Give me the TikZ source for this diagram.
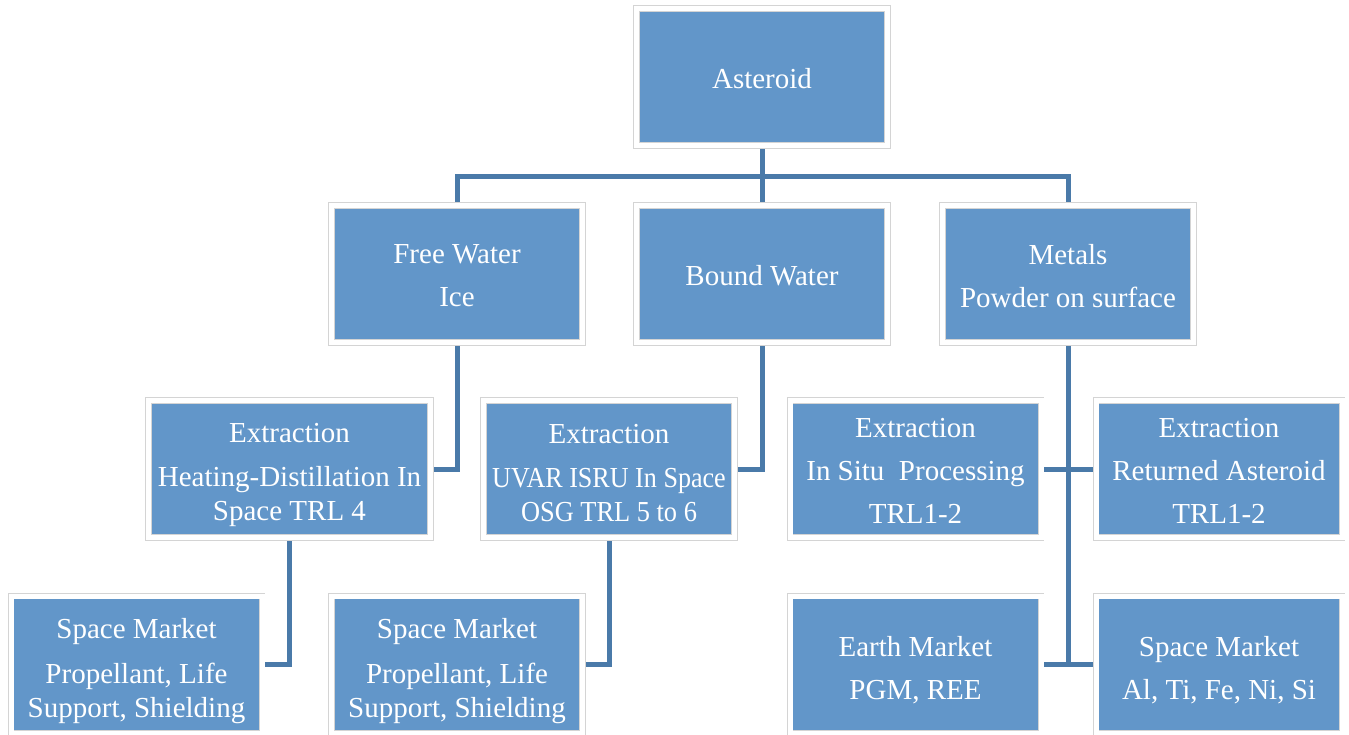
\documentclass[tikz,border=0pt]{standalone}
\usepackage{fontspec}
\setmainfont{Liberation Serif}
\usetikzlibrary{backgrounds}
\definecolor{boxblue}{RGB}{98,150,201}
\definecolor{linkblue}{RGB}{74,122,169}
\definecolor{framegray}{RGB}{212,212,212}
\begin{document}
\begin{tikzpicture}[x=1pt,y=-1pt,
  box/.style={rectangle, fill=boxblue, draw=framegray, double=white,
    double distance=5pt, line width=0.6pt, minimum width=#1,
    minimum height=137pt, inner sep=0pt},
  box/.default=251pt,
  txt/.style={text=white, align=center, inner sep=0pt,
    font=\fontsize{29}{34}\selectfont},
  link/.style={draw=linkblue, line width=5pt}]
\clip (0,0) rectangle (1349,735);
% boxes
\node[box] (ast) at (762,77) {};
\node[box] (fw) at (457,274) {};
\node[box] (bw) at (762,274) {};
\node[box] (mt) at (1068,274) {};
\node[box=282pt] (e1) at (289.5,469) {};
\node[box] (e2) at (609,469) {};
\node[box] (e3) at (915.5,469) {};
\node[box=246pt] (e4) at (1219,469) {};
\node[box] (s1) at (136.5,664.5) {};
\node[box] (s2) at (457,664.5) {};
\node[box] (em) at (915.5,664.5) {};
\node[box=246pt] (s3) at (1219,664.5) {};
% texts
\node[txt] (ast-t) at ([yshift=-2pt]ast.center) {Asteroid};
\node[txt] (fw-t) at ([yshift=-2pt]fw.center) {Free Water\\[9pt]Ice};
\node[txt] (bw-t) at ([yshift=-2pt]bw.center) {Bound Water};
\node[txt] (mt-t) at ([yshift=-2pt]mt.center) {Metals\\[9pt]Powder on surface};
\node[txt] (e1-t) at ([yshift=-6pt]e1.center) {Extraction\\[10pt]Heating-Distillation In\\Space TRL 4};
\node[txt] (e2-t) at ([yshift=-4pt]e2.center) {Extraction\\[10pt]\scalebox{0.9}[1]{UVAR ISRU In Space}\\\scalebox{0.91}[1]{OSG TRL 5 to 6}};
\node[txt] (e3-t) at ([yshift=-2pt]e3.center) {Extraction\\[9pt]In Situ~ Processing\\[9pt]TRL1-2};
\node[txt] (e4-t) at ([yshift=-2pt]e4.center) {Extraction\\[9pt]Returned Asteroid\\[9pt]TRL1-2};
\node[txt] (s1-t) at ([yshift=-7pt]s1.center) {Space Market\\[11pt]Propellant, Life\\Support, Shielding};
\node[txt] (s2-t) at ([yshift=-7pt]s2.center) {Space Market\\[11pt]Propellant, Life\\Support, Shielding};
\node[txt] (em-t) at ([yshift=-6pt]em.center) {Earth Market\\[9pt]PGM, REE};
\node[txt] (s3-t) at ([yshift=-6pt]s3.center) {Space Market\\[9pt]Al, Ti, Fe, Ni, Si};
\begin{scope}[on background layer]
\fill[white] (0,0) rectangle (1349,735);
\coordinate (bus) at (762,177);
\draw[link] (ast.south) -- (bus);
\draw[link] (fw.north) |- (bus) -| (mt.north);
\draw[link] (bus) -- (bw.north);
\draw[link] (fw.south) |- (e1.east);
\draw[link] (bw.south) |- (e2.east);
\draw[link] (mt.south) -- (mt.south |- em.east);
\draw[link] (e3.east) -- (e4.west);
\draw[link] (em.east) -- (s3.west);
\draw[link] (e1.south) |- (s1.east);
\draw[link] (e2.south) |- (s2.east);
\end{scope}
\end{tikzpicture}
\end{document}
